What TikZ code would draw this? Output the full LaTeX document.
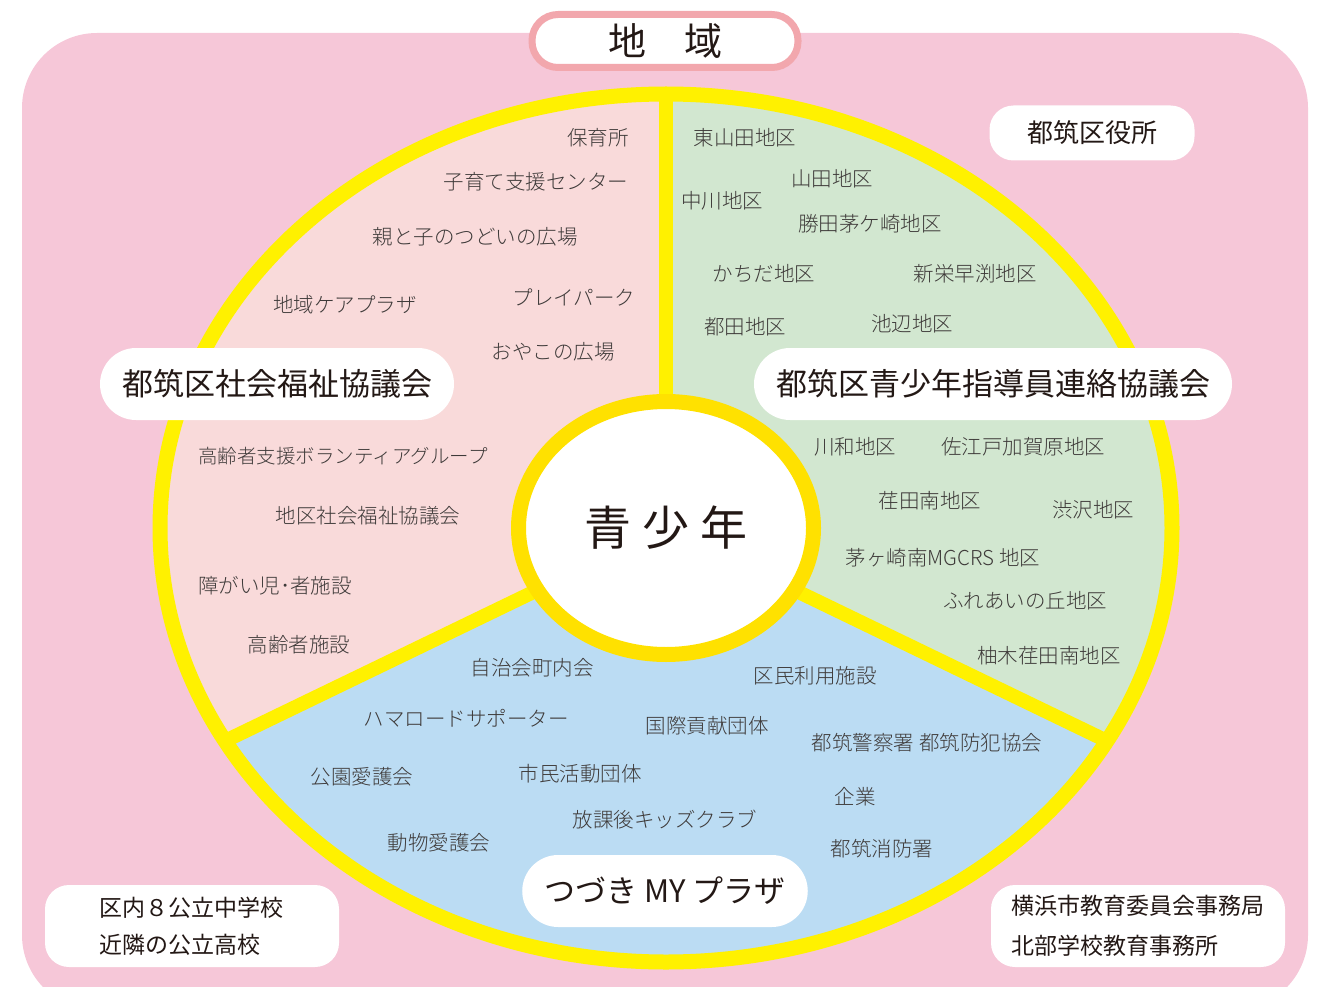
\documentclass[tikz,border=0pt]{standalone}
\usepackage{fontspec}
\usetikzlibrary{shapes.geometric}
\newfontfamily\jp{Noto Sans CJK JP}
\newfontfamily\jplight{Noto Sans CJK JP Light}

\definecolor{areapink}{HTML}{F6C7D8}
\definecolor{welfarepink}{HTML}{F9DADA}
\definecolor{leadergreen}{HTML}{D2E7D0}
\definecolor{plazablue}{HTML}{BBDCF3}
\definecolor{ringyellow}{HTML}{FFF100}
\definecolor{hubyellow}{HTML}{FFE100}
\definecolor{regionrose}{HTML}{F2A7AD}
\definecolor{labeltext}{HTML}{3E3A39}
\definecolor{titletext}{HTML}{231815}

\tikzset{
  lbl/.style={font=\jplight\fontsize{20.5}{24}\selectfont, text=labeltext, inner sep=0pt},
  title/.style={fill=white, rounded corners=36pt, minimum height=72pt, inner xsep=22pt,
    font=\jp\fontsize{31}{36}\selectfont, text=titletext},
  cornerbox/.style={fill=white, rounded corners=24pt, text=titletext, align=left},
  divider/.style={draw=ringyellow, line width=14pt},
}

\begin{document}
\begin{tikzpicture}[x=1pt, y=-1pt]
  \clip (0,0) rectangle (1323,987);
  % background
  \fill[areapink, rounded corners=75pt] (22,33) rectangle (1308,1010);
  % three sectors
  \coordinate (C) at (666,528);
  \coordinate (up) at (666,94);
  \coordinate (lowleft) at (225,741);
  \coordinate (lowright) at (1107,741);
  \begin{scope}
    \clip (C) ellipse [x radius=506, y radius=434];
    \fill[plazablue] (0,0) rectangle (1323,987);
    \fill[welfarepink] (C) -- (666,0) -- (100,0) -- (100,801) -- cycle;
    \fill[leadergreen] (C) -- (666,0) -- (1232,0) -- (1232,801) -- cycle;
  \end{scope}
  \draw[divider] (C) -- (up);
  \draw[divider] (C) -- (lowleft);
  \draw[divider] (C) -- (lowright);
  \draw[ringyellow, line width=15pt] (C) ellipse [x radius=506, y radius=434];
  % hub
  \node[ellipse, draw=hubyellow, line width=15pt, fill=white, minimum width=295pt,
    minimum height=253pt, font=\jp\fontsize{47}{50}\selectfont, text=titletext]
    (youth) at (C) {青\hspace{11pt}少\hspace{11pt}年};
  % region
  \node[draw=regionrose, line width=7pt, fill=white, rounded corners=26pt,
    minimum width=266pt, minimum height=53pt, font=\jp\fontsize{38}{40}\selectfont,
    text=titletext] (region) at (665,41) {地　域};

  % welfare sector
  \node[lbl] (nursery) at (598,138) {保育所};
  \node[lbl] (childcare) at (536,182) {子育て支援センター};
  \node[lbl] (parentplaza) at (475,237) {親と子のつどいの広場};
  \node[lbl] (careplaza) at (345,305) {地域ケアプラザ};
  \node[lbl] (playpark) at (574,297) {プレイパーク};
  \node[lbl] (oyako) at (553,352) {おやこの広場};
  \node[lbl, font=\jplight\fontsize{19.5}{24}\selectfont] (eldervol) at (343,456) {高齢者支援ボランティアグループ};
  \node[lbl] (districtwelfare) at (368,516) {地区社会福祉協議会};
  \node[lbl] (disability) at (275,586) {障がい児･者施設};
  \node[lbl] (elderhome) at (299,645) {高齢者施設};

  % leader sector
  \node[lbl] (higashiyamada) at (745,138) {東山田地区};
  \node[lbl] (yamada) at (832,179) {山田地区};
  \node[lbl] (nakagawa) at (722,201) {中川地区};
  \node[lbl] (katsuta) at (870,224) {勝田茅ケ崎地区};
  \node[lbl] (kachida) at (764,274) {かちだ地区};
  \node[lbl] (shinei) at (975,274) {新栄早渕地区};
  \node[lbl] (tsuda) at (745,327) {都田地区};
  \node[lbl] (ikenobe) at (912,324) {池辺地区};
  \node[lbl] (kawawa) at (855,447) {川和地区};
  \node[lbl] (saedo) at (1023,447) {佐江戸加賀原地区};
  \node[lbl] (edaminami) at (930,501) {荏田南地区};
  \node[lbl] (shibusawa) at (1093,510) {渋沢地区};
  \node[lbl] (mgcrs) at (943,558) {茅ヶ崎南MGCRS 地区};
  \node[lbl] (fureai) at (1025,601) {ふれあいの丘地区};
  \node[lbl] (yunoki) at (1049,656) {柚木荏田南地区};

  % plaza sector
  \node[lbl] (jichikai) at (532,668) {自治会町内会};
  \node[lbl] (kumin) at (815,676) {区民利用施設};
  \node[lbl] (hamaroad) at (466,718) {ハマロードサポーター};
  \node[lbl] (kokusai) at (707,726) {国際貢献団体};
  \node[lbl] (police) at (927,743) {都筑警察署 都筑防犯協会};
  \node[lbl] (park) at (362,777) {公園愛護会};
  \node[lbl] (shimin) at (580,774) {市民活動団体};
  \node[lbl] (company) at (855,797) {企業};
  \node[lbl] (kids) at (665,820) {放課後キッズクラブ};
  \node[lbl] (animal) at (439,843) {動物愛護会};
  \node[lbl] (fire) at (882,849) {都筑消防署};

  % sector titles
  \node[title] (welfare) at (277,384) {都筑区社会福祉協議会};
  \node[title] (leaders) at (993,384) {都筑区青少年指導員連絡協議会};
  \node[title] (myplaza) at (665,891) {つづき MY プラザ};

  % outside boxes
  \node[cornerbox, minimum width=205pt, minimum height=55pt,
    font=\jp\fontsize{26}{30}\selectfont] (ward) at (1092,133) {都筑区役所};
  \node[cornerbox, text width=186pt, inner xsep=54pt, minimum height=82pt,
    font=\jp\fontsize{23}{37}\selectfont] (schools) at (192,926) {区内８公立中学校\\近隣の公立高校};
  \node[cornerbox, text width=254pt, inner xsep=20pt, minimum height=82pt,
    font=\jp\fontsize{23}{40}\selectfont] (board) at (1138,926) {横浜市教育委員会事務局\\北部学校教育事務所};
\end{tikzpicture}
\end{document}
